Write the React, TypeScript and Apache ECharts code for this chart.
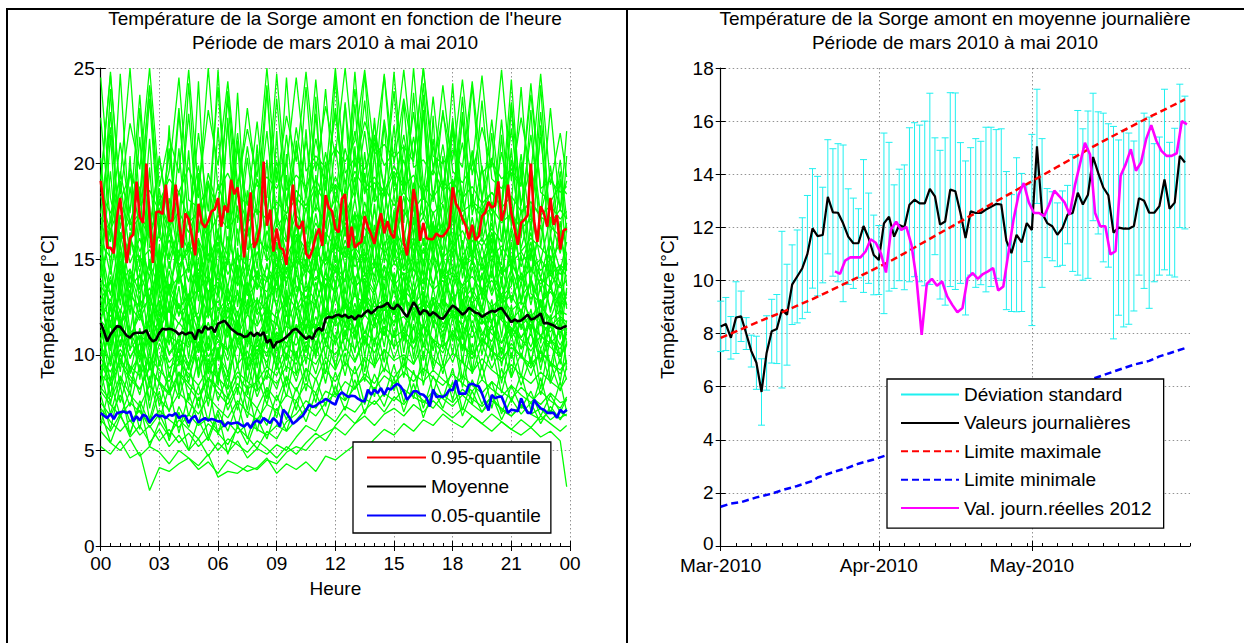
import React, { useEffect, useRef } from 'react';
import * as echarts from 'echarts';

const FONT = '"Liberation Sans", Arial, Helvetica, sans-serif';
const FS = 19;

// ---------- Left chart: temperature by hour ----------
const hourTickLabels = ['00', '03', '06', '09', '12', '15', '18', '21', '00'];

// 0.95-quantile, every 10 minutes (144 values)
const q95 = [
  19.1, 17.8, 15.6, 15.6, 15.3, 17.2, 18.2, 16.4, 14.8, 16.1, 16.3, 19.06,
  17.2, 16.9, 20.0, 17.2, 14.8, 17.45, 17.5, 17.36, 18.9, 17.0, 17.0, 18.9,
  17.0, 15.6, 17.4, 17.1, 16.2, 15.2, 17.9, 16.9, 16.66, 17.0, 17.5, 17.6,
  18.2, 16.7, 17.8, 17.45, 19.16, 18.4, 18.76, 17.27, 15.1, 16.9, 18.5, 15.6,
  15.96, 16.75, 20.1, 16.75, 17.6, 15.4, 16.6, 15.6, 15.5, 14.7, 17.27, 18.9,
  16.8, 16.6, 17.0, 15.3, 15.05, 15.5, 16.2, 16.6, 15.7, 18.35, 17.7, 17.5,
  16.6, 16.4, 18.15, 18.4, 15.6, 16.7, 15.6, 15.8, 15.9, 17.25, 16.7, 16.3,
  15.8, 16.7, 17.4, 16.35, 17.0, 16.35, 16.1, 17.4, 18.3, 15.9, 15.2, 16.7,
  18.67, 17.8, 15.96, 16.9, 16.1, 16.05, 16.05, 16.35, 16.2, 16.2, 16.4, 16.7,
  18.76, 17.9, 17.6, 17.1, 16.75, 16.05, 16.8, 16.0, 16.2, 17.25, 17.45, 18.0,
  17.7, 17.8, 19.07, 17.0, 17.6, 18.9, 17.4, 16.6, 15.75, 16.9, 17.06, 17.3,
  20.0, 17.0, 15.9, 17.76, 17.4, 16.7, 18.2, 16.8, 17.3, 15.5, 16.5, 16.6,
];

// Mean, every 10 minutes (144 values)
const meanHourly = [
  11.67, 11.23, 10.7, 11.06, 11.29, 11.5, 11.46, 11.23, 11.0, 10.9, 11.1, 11.15,
  11.15, 11.15, 11.29, 10.9, 10.7, 10.8, 11.15, 11.36, 11.32, 11.36, 11.32, 11.23,
  11.06, 11.18, 11.06, 11.15, 11.15, 10.8, 11.32, 11.15, 11.5, 11.32, 11.46, 11.18,
  11.63, 11.7, 11.78, 11.58, 11.36, 11.23, 11.1, 11.06, 10.94, 10.97, 11.18, 10.97,
  11.15, 11.0, 11.18, 10.62, 10.8, 10.36, 10.66, 10.7, 10.8, 10.94, 11.1, 11.3,
  11.36, 11.18, 11.0, 10.83, 10.97, 10.83, 11.23, 11.4, 11.25, 11.88, 11.98, 11.95,
  12.05, 12.1, 12.0, 12.1, 11.93, 12.02, 11.84, 12.05, 12.0, 12.19, 12.33, 12.16,
  12.3, 12.5, 12.5, 12.58, 12.72, 12.46, 12.4, 12.63, 12.46, 12.19, 11.98, 12.37,
  12.75, 12.5, 12.1, 12.33, 12.28, 12.05, 12.23, 12.1, 11.93, 11.88, 12.1, 12.37,
  12.58, 12.46, 12.28, 12.1, 12.23, 12.46, 12.33, 12.2, 12.16, 11.98, 12.1, 12.2,
  12.3, 12.25, 12.38, 12.45, 12.2, 11.95, 11.7, 11.85, 11.75, 11.8, 11.93, 12.1,
  11.85, 11.9, 12.02, 12.16, 11.64, 11.67, 11.6, 11.53, 11.41, 11.36, 11.45, 11.5,
];

// 0.05-quantile, every 10 minutes (144 values)
const q05 = [
  6.95, 6.81, 6.69, 6.92, 6.64, 6.95, 6.99, 7.04, 6.95, 7.04, 6.52, 6.78,
  6.57, 6.87, 6.78, 6.46, 6.69, 6.87, 6.78, 6.81, 6.69, 6.87, 6.81, 6.95,
  6.69, 6.81, 6.81, 6.43, 6.69, 6.81, 6.46, 6.6, 6.69, 6.57, 6.64, 6.6,
  6.52, 6.52, 6.25, 6.46, 6.39, 6.43, 6.46, 6.34, 6.25, 6.43, 6.17, 6.46,
  6.57, 6.43, 6.69, 6.57, 6.43, 6.69, 6.52, 6.25, 7.13, 6.95, 6.69, 6.39,
  6.52, 6.69, 6.81, 7.1, 7.39, 7.27, 7.34, 7.48, 7.55, 7.69, 7.6, 7.48,
  7.39, 7.86, 8.04, 7.91, 7.79, 7.86, 7.83, 7.69, 7.6, 7.56, 8.18, 7.91,
  8.18, 8.0, 8.26, 7.91, 8.26, 8.18, 8.35, 8.49, 8.35, 8.09, 7.65, 7.86,
  8.09, 8.09, 7.95, 7.91, 7.74, 7.3, 8.18, 7.79, 7.83, 7.79, 7.91, 8.18,
  8.14, 8.67, 7.97, 7.97, 7.97, 8.44, 8.49, 8.4, 8.35, 7.97, 7.51, 7.09,
  7.9, 7.73, 7.8, 7.82, 7.39, 6.96, 7.13, 7.1, 7.04, 7.73, 7.3, 6.96,
  6.96, 7.65, 7.39, 7.2, 7.13, 6.96, 6.96, 6.96, 6.7, 7.13, 6.96, 7.13,
];

// Hours of the individual daily curves (every 30 min, last sample 23:50)
const greenHours = [
  0, 0.5, 1, 1.5, 2, 2.5, 3, 3.5, 4, 4.5, 5, 5.5, 6, 6.5, 7, 7.5, 8, 8.5, 9, 9.5,
  10, 10.5, 11, 11.5, 12, 12.5, 13, 13.5, 14, 14.5, 15, 15.5, 16, 16.5, 17, 17.5,
  18, 18.5, 19, 19.5, 20, 20.5, 21, 21.5, 22, 22.5, 23, 23.5, 23.83,
];

// Individual daily curves
const greenDays: number[][] = [
  [5.2, 4.8, 5.5, 4.6, 4.9, 2.9, 4.1, 3.9, 4.3, 4.6, 4.0, 4.4, 3.8, 4.5, 4.2, 3.9, 4.1, 4.6, 3.8, 4.3, 4.0, 4.4, 3.9, 4.7, 4.5, 4.9, 5.3, 5.0, 5.6, 6.1, 5.8, 6.4, 6.0, 6.6, 6.3, 6.9, 6.5, 6.2, 6.8, 6.4, 6.0, 6.5, 6.1, 5.8, 6.2, 5.7, 6.0, 5.5, 3.1],
  [6.0, 5.4, 5.0, 5.6, 4.7, 5.2, 4.9, 4.3, 5.0, 4.6, 4.2, 4.8, 3.6, 3.9, 3.8, 4.2, 4.0, 4.5, 4.3, 4.9, 5.2, 5.0, 5.6, 5.9, 6.2, 5.8, 6.4, 6.8, 6.3, 6.9, 7.2, 6.8, 7.4, 7.0, 7.6, 7.1, 6.7, 7.2, 6.8, 6.4, 6.9, 6.5, 6.1, 6.6, 6.2, 6.8, 6.4, 6.0, 6.3],
  [7.2, 6.5, 6.0, 6.6, 5.8, 6.3, 5.5, 6.1, 5.4, 5.9, 5.2, 5.7, 5.0, 5.6, 5.3, 4.9, 5.5, 5.1, 4.6, 5.2, 4.8, 5.4, 5.9, 5.5, 6.3, 6.9, 6.4, 7.1, 7.6, 7.0, 7.8, 7.4, 8.1, 7.6, 7.2, 7.9, 7.5, 8.2, 7.7, 7.3, 7.8, 7.1, 6.8, 7.4, 6.9, 7.2, 6.6, 7.0, 6.8],
  [8.1, 7.4, 6.8, 7.5, 7.0, 6.4, 7.1, 6.6, 6.2, 6.9, 6.3, 6.7, 6.0, 6.5, 5.9, 6.4, 6.1, 5.8, 6.3, 6.0, 6.6, 7.2, 6.8, 7.5, 8.0, 7.6, 8.3, 8.8, 8.2, 8.9, 8.5, 9.1, 8.6, 9.3, 8.8, 8.4, 9.0, 8.5, 8.1, 8.7, 8.2, 7.8, 8.4, 7.9, 7.5, 8.1, 7.6, 7.2, 7.8],
  [9.5, 8.6, 9.8, 8.9, 8.2, 9.4, 8.5, 7.9, 9.0, 8.3, 7.6, 8.8, 8.0, 7.4, 8.5, 7.8, 7.2, 8.3, 7.6, 8.9, 8.1, 9.3, 8.7, 9.9, 9.2, 10.4, 9.6, 10.8, 10.1, 11.2, 10.4, 11.0, 10.3, 11.5, 10.7, 10.1, 11.3, 10.5, 9.8, 10.9, 10.2, 9.6, 10.6, 9.9, 9.3, 10.2, 9.6, 9.0, 9.7],
  [10.8, 12.5, 9.6, 11.2, 10.1, 12.8, 9.4, 11.0, 9.8, 12.1, 9.2, 10.6, 8.9, 11.4, 9.5, 10.2, 8.7, 11.0, 9.3, 10.5, 9.9, 12.0, 10.6, 11.8, 10.9, 12.9, 11.3, 13.4, 11.8, 12.6, 11.5, 13.1, 12.2, 11.4, 12.8, 11.6, 12.3, 11.0, 12.5, 11.2, 10.7, 12.1, 10.9, 11.6, 10.4, 11.9, 10.8, 10.3, 11.1],
  [11.5, 10.2, 13.6, 10.9, 12.1, 10.4, 15.2, 11.0, 10.6, 12.8, 10.1, 11.7, 9.9, 13.5, 10.5, 11.2, 10.0, 12.4, 10.8, 11.5, 12.9, 11.1, 13.8, 12.0, 14.6, 12.4, 13.1, 12.7, 15.9, 13.0, 12.2, 14.1, 12.6, 13.3, 12.1, 14.8, 12.5, 11.9, 13.2, 12.3, 11.6, 13.7, 11.8, 12.4, 11.2, 12.9, 11.5, 12.0, 11.7],
  [12.4, 14.1, 11.6, 13.2, 17.5, 11.9, 12.8, 11.3, 14.6, 11.7, 12.2, 16.3, 11.0, 12.5, 11.4, 13.8, 10.9, 12.0, 11.6, 15.1, 12.3, 13.0, 12.6, 14.4, 13.2, 17.8, 13.6, 14.0, 13.1, 15.3, 13.8, 12.9, 14.5, 13.4, 16.6, 13.0, 14.2, 12.8, 13.5, 12.4, 15.7, 12.7, 13.1, 12.2, 14.0, 12.5, 11.9, 13.3, 12.6],
  [13.6, 12.8, 14.9, 13.1, 12.5, 19.8, 13.4, 12.2, 14.1, 12.7, 13.5, 12.0, 15.6, 12.6, 13.2, 12.1, 14.4, 12.9, 13.7, 20.5, 13.3, 14.5, 13.9, 15.2, 14.3, 16.0, 14.6, 15.4, 14.1, 17.2, 14.8, 15.6, 14.4, 22.8, 15.1, 14.2, 15.7, 14.6, 15.0, 13.9, 16.4, 14.3, 14.8, 13.7, 15.3, 14.0, 13.5, 14.6, 14.1],
  [15.2, 23.9, 14.6, 16.1, 14.9, 15.5, 14.3, 16.8, 14.7, 15.4, 24.3, 14.8, 15.9, 14.2, 15.3, 14.6, 21.0, 14.9, 15.6, 15.1, 16.3, 15.5, 16.9, 15.8, 24.6, 16.2, 17.4, 16.6, 16.0, 17.1, 16.4, 23.2, 16.8, 17.5, 16.1, 16.9, 15.8, 17.3, 16.2, 15.7, 16.6, 15.9, 20.8, 15.4, 16.1, 15.6, 15.0, 15.8, 15.3],
  [16.8, 15.9, 24.7, 16.5, 17.2, 16.1, 18.0, 16.4, 22.6, 16.9, 17.5, 16.0, 24.9, 16.6, 17.3, 16.2, 17.9, 24.1, 16.7, 17.4, 18.2, 17.6, 18.8, 17.9, 19.3, 18.1, 24.8, 18.5, 19.0, 18.3, 19.6, 18.7, 25.0, 18.9, 18.2, 19.1, 18.4, 22.3, 18.0, 17.6, 18.5, 17.8, 24.4, 17.4, 18.0, 17.2, 16.9, 17.6, 17.1],
  [18.5, 17.4, 19.2, 25.0, 17.8, 18.6, 17.5, 19.6, 24.5, 18.1, 17.7, 18.9, 17.6, 23.8, 18.3, 17.9, 19.1, 18.2, 24.7, 18.6, 19.4, 18.8, 20.1, 19.2, 25.0, 19.5, 20.3, 19.7, 21.4, 19.9, 20.6, 24.9, 19.8, 20.2, 19.4, 24.1, 19.6, 19.0, 19.9, 24.6, 19.2, 18.7, 19.5, 18.8, 24.2, 18.5, 18.0, 18.9, 18.4],
  [14.1, 21.5, 13.7, 14.5, 13.2, 14.8, 13.5, 22.0, 13.9, 14.6, 13.3, 14.2, 13.0, 14.9, 21.2, 13.6, 14.3, 13.8, 14.7, 14.0, 15.2, 14.5, 23.5, 14.9, 15.6, 15.1, 16.2, 15.4, 22.4, 15.8, 16.5, 15.7, 16.1, 15.3, 16.8, 15.5, 21.9, 15.2, 16.0, 15.0, 15.6, 14.7, 23.1, 14.9, 15.3, 14.4, 15.0, 14.2, 14.7],
  [11.2, 10.5, 11.8, 10.3, 11.0, 10.6, 11.9, 10.1, 10.8, 10.4, 11.5, 9.9, 10.7, 10.2, 11.3, 9.8, 10.5, 10.1, 11.2, 10.6, 11.4, 11.9, 11.3, 12.4, 11.8, 12.7, 12.1, 13.2, 12.5, 12.9, 12.3, 13.4, 12.8, 12.2, 13.0, 12.4, 11.9, 12.7, 12.1, 11.6, 12.3, 11.8, 11.2, 12.0, 11.5, 11.0, 11.7, 11.2, 11.4],
  [9.0, 8.4, 9.6, 8.7, 8.2, 9.3, 8.6, 8.0, 9.1, 8.5, 7.9, 8.8, 8.3, 7.7, 8.9, 8.2, 8.6, 9.4, 8.9, 10.1, 9.5, 10.7, 10.0, 11.2, 10.6, 11.6, 11.0, 12.1, 11.4, 12.4, 11.7, 12.0, 11.3, 12.6, 11.8, 11.2, 12.2, 11.5, 10.9, 11.8, 11.1, 10.6, 11.4, 10.8, 10.2, 11.0, 10.4, 9.9, 10.5],
  [12.9, 13.8, 12.2, 14.4, 12.6, 13.5, 12.0, 14.9, 12.4, 13.2, 11.8, 14.1, 12.3, 13.0, 11.7, 13.6, 12.1, 12.8, 13.9, 12.5, 14.2, 13.3, 15.0, 13.6, 14.7, 13.9, 15.5, 14.2, 14.9, 14.0, 15.8, 14.4, 15.1, 13.8, 15.3, 14.1, 14.6, 13.6, 14.9, 13.4, 14.3, 13.1, 14.5, 13.0, 13.8, 12.7, 13.5, 12.6, 13.2],
  [8.3, 7.6, 8.9, 7.9, 7.3, 8.4, 7.7, 7.1, 8.0, 7.5, 6.9, 7.8, 7.2, 6.7, 7.6, 7.0, 6.6, 7.4, 7.1, 7.9, 7.6, 8.5, 8.0, 9.2, 8.6, 9.6, 9.0, 9.9, 9.4, 10.3, 9.7, 10.0, 9.5, 10.5, 9.8, 9.3, 10.1, 9.6, 9.1, 9.8, 9.2, 8.8, 9.5, 8.9, 8.5, 9.1, 8.6, 8.2, 8.8],
  [10.4, 9.7, 11.1, 9.9, 10.6, 9.4, 10.9, 9.6, 10.2, 9.3, 10.7, 9.5, 10.0, 9.1, 10.5, 9.4, 9.9, 10.8, 10.2, 11.0, 10.5, 11.6, 10.9, 12.3, 11.5, 12.0, 11.3, 12.8, 11.9, 12.5, 11.7, 13.0, 12.2, 12.6, 11.9, 12.9, 12.1, 11.6, 12.4, 11.8, 11.3, 12.0, 11.4, 10.9, 11.6, 11.0, 10.6, 11.2, 10.8],
  [17.2, 16.5, 17.9, 16.8, 17.4, 16.3, 18.1, 16.7, 17.5, 16.4, 17.8, 16.2, 17.3, 16.6, 18.4, 16.9, 17.6, 17.1, 18.0, 17.4, 18.6, 17.8, 19.2, 18.1, 18.9, 18.3, 19.6, 18.7, 19.3, 18.5, 19.9, 18.8, 19.4, 18.4, 19.7, 18.6, 19.1, 18.2, 18.8, 17.9, 18.5, 17.7, 18.3, 17.5, 18.0, 17.3, 17.8, 17.1, 17.5],
  [12.6, 12.0, 13.1, 20.4, 12.3, 12.9, 11.8, 13.4, 12.1, 12.7, 19.3, 12.2, 12.8, 11.9, 13.2, 12.4, 12.9, 12.3, 21.7, 12.8, 13.6, 13.0, 14.1, 13.5, 14.4, 13.8, 20.9, 14.1, 14.6, 13.9, 14.8, 14.2, 14.5, 13.7, 22.5, 14.0, 14.3, 13.6, 14.1, 13.3, 13.9, 13.0, 13.6, 20.1, 13.2, 12.7, 13.3, 12.5, 13.0],
  [7.5, 6.8, 7.9, 6.5, 7.1, 6.2, 6.9, 5.8, 6.6, 6.1, 5.6, 6.4, 5.9, 5.3, 6.2, 5.7, 5.1, 6.0, 5.6, 6.5, 6.9, 7.6, 7.2, 8.1, 7.8, 8.6, 8.2, 9.0, 8.5, 9.3, 8.8, 9.5, 9.0, 8.6, 9.2, 8.7, 8.3, 8.9, 8.4, 8.0, 8.6, 8.1, 7.7, 8.3, 7.8, 7.4, 8.0, 7.5, 7.6],
  [11.8, 11.1, 12.4, 11.3, 10.8, 11.9, 11.2, 10.6, 11.7, 11.0, 10.5, 11.4, 10.8, 10.3, 11.2, 10.7, 10.2, 11.0, 10.6, 11.5, 11.1, 11.9, 11.4, 12.2, 11.8, 12.6, 12.0, 12.9, 12.3, 12.7, 12.1, 13.0, 12.4, 12.8, 12.2, 12.9, 12.3, 12.0, 12.6, 12.1, 11.8, 12.4, 11.9, 11.5, 12.1, 11.6, 11.2, 11.9, 11.5],
  [15.8, 15.1, 16.4, 15.3, 22.9, 15.6, 16.2, 15.0, 16.6, 15.4, 16.0, 14.9, 16.3, 15.2, 23.7, 15.5, 16.1, 15.4, 16.8, 15.9, 17.3, 16.5, 17.8, 16.9, 18.2, 17.3, 18.6, 23.3, 18.0, 18.8, 17.8, 18.5, 17.6, 18.3, 17.4, 18.0, 24.2, 17.5, 17.9, 17.2, 17.7, 16.9, 17.4, 16.6, 17.1, 22.7, 16.7, 16.2, 16.8],
  [12.0, 12.9, 11.5, 12.6, 11.8, 13.1, 11.3, 12.4, 11.6, 12.8, 11.1, 12.2, 11.4, 12.7, 11.0, 12.1, 11.5, 12.5, 11.9, 13.2, 12.4, 13.6, 12.8, 14.0, 13.2, 14.5, 13.5, 14.2, 13.3, 14.7, 13.6, 14.3, 13.1, 14.4, 13.4, 13.9, 12.9, 13.6, 12.7, 13.3, 12.5, 13.0, 12.3, 12.8, 12.0, 12.6, 11.8, 12.3, 12.1],
  [9.8, 9.1, 10.3, 9.4, 8.9, 9.9, 9.2, 8.6, 9.6, 9.0, 8.4, 9.3, 8.8, 8.2, 9.1, 8.6, 8.1, 8.9, 8.5, 9.4, 9.0, 9.9, 9.5, 10.5, 10.0, 10.9, 10.3, 11.2, 10.7, 11.5, 10.9, 11.3, 10.6, 11.6, 10.8, 10.4, 11.1, 10.5, 10.0, 10.8, 10.2, 9.8, 10.4, 9.9, 9.5, 10.1, 9.6, 9.2, 9.7],
  [18.9, 24.8, 18.1, 19.4, 18.4, 24.0, 18.0, 19.2, 18.5, 19.8, 18.2, 25.0, 18.6, 19.5, 18.3, 22.9, 18.8, 19.3, 18.7, 19.9, 24.5, 19.6, 20.4, 19.8, 20.8, 20.1, 21.2, 24.9, 20.5, 21.0, 20.3, 20.9, 20.1, 25.0, 20.4, 20.0, 20.7, 19.8, 24.3, 19.5, 20.1, 19.2, 19.7, 18.9, 23.6, 18.7, 19.1, 18.5, 18.8],
  [6.6, 6.0, 6.9, 5.7, 6.3, 5.4, 6.1, 5.2, 5.8, 5.0, 5.6, 4.7, 5.4, 4.9, 5.5, 4.6, 5.1, 4.8, 5.3, 5.0, 5.7, 6.3, 6.0, 6.9, 6.5, 7.3, 7.0, 7.7, 7.4, 8.0, 7.6, 8.2, 7.8, 7.5, 8.1, 7.7, 7.3, 7.9, 7.4, 7.0, 7.6, 7.2, 6.8, 7.3, 6.9, 6.6, 7.1, 6.7, 6.9],
  [13.9, 13.2, 14.6, 13.5, 14.2, 13.0, 14.8, 13.4, 14.1, 12.9, 14.5, 13.3, 13.8, 12.8, 14.3, 13.1, 13.7, 13.3, 14.4, 13.8, 15.0, 14.3, 15.4, 14.7, 15.9, 15.1, 15.6, 14.9, 16.2, 15.3, 16.0, 15.2, 15.8, 14.9, 16.3, 15.1, 15.6, 14.7, 15.3, 14.5, 15.0, 14.2, 14.8, 13.9, 14.5, 13.7, 14.2, 13.5, 13.9],
  [16.2, 22.7, 15.8, 19.5, 16.6, 23.4, 16.1, 20.8, 15.9, 24.2, 16.4, 19.1, 16.0, 22.1, 15.7, 20.3, 16.3, 23.8, 16.8, 21.5, 17.1, 24.0, 17.5, 20.6, 17.9, 23.1, 18.2, 21.7, 18.0, 24.7, 18.4, 20.2, 17.8, 22.8, 18.1, 21.0, 17.6, 23.5, 17.3, 19.8, 17.0, 22.3, 16.7, 20.5, 16.5, 24.1, 16.2, 19.6, 16.4],
  [24.5, 18.2, 15.9, 17.1, 15.4, 16.6, 14.8, 16.0, 14.5, 15.7, 14.2, 15.3, 13.9, 15.1, 13.6, 14.8, 13.4, 14.6, 13.8, 15.2, 14.5, 15.9, 15.0, 16.4, 15.6, 16.9, 16.0, 17.5, 16.3, 17.0, 16.1, 17.6, 16.4, 17.2, 16.0, 16.8, 15.7, 16.5, 15.4, 16.1, 15.1, 15.7, 14.8, 15.4, 14.5, 15.0, 14.2, 14.7, 14.4],
  [8.4, 12.6, 9.1, 13.2, 8.7, 11.9, 9.5, 12.8, 8.2, 12.1, 9.0, 13.4, 8.6, 11.7, 9.3, 12.9, 8.1, 12.4, 9.6, 13.1, 8.9, 12.2, 9.8, 13.6, 9.2, 12.7, 10.1, 13.9, 9.5, 13.0, 10.3, 14.2, 9.8, 13.3, 9.4, 12.8, 10.0, 13.5, 9.1, 12.6, 9.7, 13.2, 8.8, 12.3, 9.4, 12.9, 8.6, 12.0, 9.2],
  [16.2, 11.4, 15.8, 12.1, 16.9, 11.2, 15.5, 12.4, 17.1, 11.6, 16.0, 11.9, 16.6, 11.1, 15.3, 12.2, 16.8, 11.5, 15.9, 12.6, 17.2, 12.0, 16.4, 13.1, 17.6, 12.5, 16.9, 13.4, 17.9, 12.8, 17.3, 13.0, 18.1, 12.6, 17.0, 13.2, 17.7, 12.3, 16.8, 12.9, 17.4, 12.1, 16.5, 12.7, 17.0, 11.8, 16.3, 12.4, 16.7],
  [10.6, 7.4, 10.1, 7.9, 10.8, 7.2, 9.7, 8.1, 10.4, 7.6, 9.9, 7.3, 10.2, 7.8, 9.5, 7.1, 10.0, 7.7, 10.5, 8.3, 11.2, 8.6, 11.6, 9.0, 12.1, 9.4, 12.4, 9.1, 11.9, 9.6, 12.6, 9.3, 12.2, 8.9, 11.8, 9.5, 12.0, 8.7, 11.5, 9.2, 11.7, 8.5, 11.1, 8.8, 11.4, 8.2, 10.9, 8.6, 10.7],
  [14.2, 19.6, 13.5, 18.8, 14.6, 21.3, 13.8, 18.2, 14.9, 20.7, 13.4, 19.1, 14.1, 22.4, 13.7, 18.6, 14.5, 20.2, 14.0, 19.4, 15.1, 21.8, 14.8, 20.1, 15.6, 23.2, 15.2, 20.6, 15.9, 22.1, 15.4, 21.0, 16.1, 23.6, 15.5, 20.4, 15.8, 22.7, 15.0, 19.9, 15.3, 21.5, 14.6, 19.7, 14.9, 22.0, 14.3, 19.2, 14.7],
  [13.8, 9.6, 14.5, 10.2, 13.1, 9.3, 14.9, 10.5, 13.6, 9.8, 14.2, 9.1, 13.4, 10.0, 14.7, 9.5, 13.0, 10.3, 14.4, 10.8, 15.1, 11.2, 15.6, 11.7, 16.0, 11.4, 15.3, 12.0, 16.4, 11.6, 15.8, 12.2, 16.1, 11.5, 15.5, 11.9, 15.9, 11.1, 15.2, 11.6, 14.8, 10.9, 14.6, 11.3, 14.1, 10.6, 13.9, 10.8, 13.5],
  [9.2, 6.9, 8.8, 7.3, 9.5, 6.6, 8.6, 7.0, 9.1, 6.8, 8.4, 6.5, 9.0, 7.1, 8.3, 6.7, 8.9, 7.4, 9.6, 7.8, 10.2, 8.1, 10.7, 8.5, 11.0, 8.9, 11.4, 8.6, 10.9, 9.1, 11.3, 8.8, 11.6, 8.4, 10.8, 9.0, 11.2, 8.3, 10.6, 8.7, 10.4, 8.0, 10.1, 8.4, 9.9, 7.9, 9.6, 8.1, 9.4],
  [17.4, 21.9, 16.6, 19.8, 17.9, 24.1, 16.8, 20.5, 17.2, 22.6, 16.4, 19.5, 17.6, 23.4, 16.9, 20.9, 17.3, 21.7, 16.7, 24.5, 17.8, 21.2, 18.3, 23.9, 17.9, 20.8, 18.6, 24.7, 18.1, 22.3, 18.8, 21.5, 18.4, 24.2, 18.0, 22.8, 18.5, 21.1, 17.7, 23.3, 17.5, 20.6, 17.9, 24.0, 17.2, 21.4, 16.8, 20.2, 17.1],
  [12.9, 10.3, 13.6, 10.8, 12.4, 10.1, 13.2, 11.0, 12.7, 10.5, 13.8, 10.2, 12.5, 10.9, 13.4, 10.4, 12.8, 11.1, 13.9, 11.5, 14.3, 11.9, 14.8, 12.2, 15.2, 12.6, 15.5, 12.3, 15.0, 12.8, 15.7, 12.5, 15.3, 12.1, 14.9, 12.7, 15.4, 12.0, 14.6, 12.4, 14.4, 11.8, 14.1, 12.1, 13.9, 11.5, 13.6, 11.9, 13.3],
  [19.2, 24.6, 18.4, 22.1, 19.7, 25.0, 18.8, 21.4, 19.5, 24.9, 18.6, 22.8, 19.9, 24.3, 18.9, 21.8, 19.3, 25.0, 19.0, 22.5, 20.1, 24.8, 19.6, 23.0, 20.4, 25.0, 19.8, 22.2, 20.6, 24.6, 20.0, 23.4, 20.3, 25.0, 19.7, 22.6, 20.2, 24.4, 19.4, 21.9, 19.8, 24.9, 19.1, 22.4, 19.5, 24.7, 18.9, 21.6, 19.3],
  [11.7, 8.5, 12.2, 9.0, 11.4, 8.3, 12.6, 8.8, 11.1, 9.2, 12.0, 8.4, 11.5, 8.9, 12.3, 8.6, 11.2, 9.3, 12.5, 9.7, 13.0, 10.1, 13.4, 10.5, 13.8, 10.9, 14.1, 10.6, 13.6, 11.0, 14.3, 10.8, 13.9, 10.4, 13.5, 10.9, 13.7, 10.2, 13.2, 10.6, 12.9, 10.0, 12.6, 10.3, 12.4, 9.6, 12.1, 9.9, 11.8],
  [15.1, 12.4, 15.8, 12.9, 18.6, 12.2, 15.4, 13.1, 16.2, 12.6, 15.6, 12.0, 17.9, 12.8, 15.2, 13.3, 16.0, 12.5, 15.9, 13.6, 16.8, 13.9, 19.4, 14.2, 17.1, 14.6, 17.5, 14.3, 20.6, 14.8, 17.3, 14.5, 17.8, 14.1, 16.9, 14.7, 19.1, 14.0, 16.6, 14.4, 16.4, 13.7, 18.3, 13.9, 15.9, 13.3, 15.7, 13.6, 15.3],
  [8.1, 9.9, 7.5, 9.4, 7.9, 10.2, 7.3, 9.1, 7.7, 9.6, 7.2, 9.8, 7.6, 9.0, 7.1, 9.5, 7.8, 9.2, 8.2, 10.0, 8.6, 10.5, 9.0, 10.9, 9.4, 11.3, 9.7, 11.0, 9.3, 11.5, 9.8, 11.2, 9.5, 11.6, 9.2, 10.8, 9.6, 11.1, 9.0, 10.6, 9.3, 10.4, 8.8, 10.1, 8.9, 10.3, 8.5, 9.8, 8.7],
  [16.5, 14.2, 17.3, 14.8, 16.1, 14.0, 17.6, 14.5, 16.8, 14.3, 17.1, 13.9, 16.4, 14.7, 17.8, 14.1, 16.6, 14.9, 17.4, 15.3, 18.1, 15.6, 18.5, 15.9, 18.9, 16.2, 19.3, 15.8, 18.7, 16.4, 19.5, 16.0, 19.0, 15.7, 18.6, 16.1, 19.2, 15.5, 18.4, 15.9, 18.0, 15.2, 17.7, 15.6, 17.5, 14.9, 17.2, 15.3, 16.9],
  [9.9, 12.7, 10.4, 13.3, 9.6, 12.2, 10.8, 13.5, 9.4, 12.9, 10.1, 13.1, 9.7, 12.4, 10.6, 13.6, 9.3, 12.8, 10.5, 13.4, 10.9, 13.9, 11.3, 14.4, 11.6, 14.8, 11.9, 15.1, 11.5, 14.6, 12.1, 15.3, 11.8, 14.9, 11.4, 14.5, 12.0, 15.0, 11.2, 14.3, 11.6, 14.1, 10.9, 13.8, 11.3, 13.6, 10.7, 13.2, 10.5],
  [18.3, 16.4, 19.6, 16.9, 18.8, 16.2, 20.4, 16.7, 18.5, 17.1, 19.9, 16.5, 18.9, 17.3, 21.6, 16.8, 19.2, 17.5, 20.1, 17.8, 20.8, 18.2, 21.3, 18.6, 22.9, 18.9, 21.7, 18.4, 21.1, 18.8, 23.8, 18.5, 21.4, 18.1, 20.9, 18.7, 22.2, 18.0, 20.6, 18.3, 20.3, 17.6, 21.8, 17.9, 19.8, 17.4, 19.5, 17.7, 19.1],
  [10.9, 7.8, 11.5, 8.3, 10.2, 7.6, 11.8, 8.0, 10.6, 8.5, 11.2, 7.7, 10.4, 8.2, 11.6, 7.9, 10.8, 8.7, 11.9, 9.1, 12.4, 9.5, 12.9, 9.8, 13.3, 10.2, 13.6, 9.9, 13.1, 10.4, 13.8, 10.1, 13.4, 9.7, 13.0, 10.3, 13.5, 9.6, 12.8, 10.0, 12.6, 9.4, 12.3, 9.8, 12.1, 9.2, 11.8, 9.5, 11.4],
  [11.6, 14.7, 11.1, 14.2, 11.9, 15.0, 11.3, 14.4, 12.0, 14.9, 11.4, 14.1, 11.8, 15.3, 11.2, 14.6, 12.2, 14.8, 12.5, 15.4, 12.9, 15.8, 13.2, 16.3, 13.6, 16.7, 13.3, 16.2, 13.8, 16.9, 13.5, 16.5, 13.9, 16.1, 13.4, 16.6, 13.7, 16.0, 13.1, 15.7, 13.3, 15.5, 12.8, 15.2, 12.6, 15.0, 12.2, 14.7, 12.4],
  [7.9, 6.1, 8.4, 5.8, 7.6, 6.4, 8.1, 5.5, 7.3, 6.2, 7.8, 5.7, 7.1, 6.0, 7.5, 5.6, 7.2, 6.3, 7.9, 6.6, 8.3, 7.0, 8.8, 7.3, 9.1, 7.6, 9.4, 7.4, 9.0, 7.8, 9.5, 7.5, 9.2, 7.2, 8.9, 7.7, 9.3, 7.1, 8.7, 7.4, 8.6, 6.9, 8.4, 7.2, 8.1, 6.8, 7.9, 7.0, 7.7],
  [15.7, 13.1, 16.4, 13.6, 15.2, 12.9, 16.8, 13.4, 15.5, 13.8, 16.1, 13.0, 15.9, 13.5, 16.6, 13.2, 15.4, 13.9, 16.3, 14.2, 17.0, 14.6, 17.4, 14.9, 17.9, 15.2, 18.2, 14.8, 17.6, 15.3, 18.4, 15.0, 17.8, 14.7, 17.5, 15.1, 18.0, 14.5, 17.2, 14.8, 16.9, 14.3, 16.7, 14.6, 16.4, 14.0, 16.2, 14.4, 15.9],
  [10.2, 8.7, 10.8, 9.1, 10.0, 8.5, 10.6, 9.3, 9.8, 8.8, 10.5, 9.0, 10.1, 8.6, 10.9, 9.2, 10.3, 9.6, 11.1, 9.9, 11.6, 10.3, 12.0, 10.6, 12.4, 10.9, 12.7, 10.5, 12.2, 11.0, 12.8, 10.7, 12.5, 10.4, 12.1, 10.8, 12.3, 10.2, 11.8, 10.5, 11.6, 10.0, 11.3, 10.3, 11.1, 9.7, 10.8, 10.0, 10.6],
  [13.1, 17.2, 12.6, 16.4, 13.4, 17.8, 12.3, 16.9, 13.7, 17.5, 12.8, 16.2, 13.3, 17.9, 12.5, 16.7, 13.9, 17.3, 13.0, 18.2, 14.1, 18.6, 14.4, 19.1, 14.8, 18.4, 15.2, 19.5, 14.6, 18.9, 15.0, 19.3, 14.5, 18.7, 14.9, 19.0, 14.2, 18.5, 14.7, 18.1, 14.0, 17.8, 14.3, 17.6, 13.8, 17.4, 13.5, 17.0, 13.6],
  [6.3, 8.6, 6.8, 8.1, 6.1, 8.9, 6.6, 8.3, 5.9, 8.0, 6.4, 8.5, 5.8, 7.9, 6.2, 8.4, 6.0, 8.2, 6.7, 8.8, 7.1, 9.3, 7.5, 9.7, 7.9, 10.1, 8.2, 9.8, 7.8, 10.3, 8.1, 9.9, 7.7, 10.2, 8.0, 9.6, 7.6, 9.9, 7.4, 9.5, 7.2, 9.3, 7.5, 9.0, 7.1, 8.8, 6.9, 8.6, 7.0],
  [20.3, 14.6, 19.1, 15.2, 21.4, 14.4, 18.7, 15.0, 20.8, 14.8, 19.5, 14.2, 21.9, 15.1, 18.9, 14.7, 20.5, 15.4, 19.8, 15.9, 21.2, 16.3, 22.6, 16.6, 20.9, 17.0, 23.1, 16.8, 21.5, 17.2, 22.0, 16.9, 23.7, 17.1, 21.3, 16.5, 22.4, 16.8, 20.7, 16.2, 21.6, 15.9, 20.2, 16.1, 22.8, 15.6, 19.9, 15.8, 20.4],
  [14.9, 10.6, 15.4, 11.2, 14.3, 10.4, 15.8, 11.0, 14.6, 10.8, 15.1, 10.2, 14.7, 11.3, 15.6, 10.7, 14.4, 11.5, 15.3, 12.0, 16.2, 12.4, 16.6, 12.9, 17.0, 13.2, 17.4, 12.8, 16.8, 13.4, 17.6, 13.0, 17.2, 12.6, 16.9, 13.1, 17.3, 12.5, 16.5, 12.9, 16.1, 12.2, 15.9, 12.6, 15.6, 11.9, 15.2, 12.1, 14.8],
  [8.9, 11.8, 8.3, 11.2, 9.1, 12.1, 8.6, 11.5, 8.0, 11.9, 8.8, 11.0, 8.4, 11.6, 7.9, 11.3, 8.7, 11.7, 9.2, 12.3, 9.7, 12.8, 10.1, 13.1, 10.5, 13.5, 10.8, 13.2, 10.4, 13.7, 10.9, 13.4, 10.6, 13.0, 10.2, 13.3, 10.7, 12.9, 10.0, 12.6, 10.3, 12.4, 9.8, 12.2, 9.6, 11.9, 9.4, 11.7, 9.5],
  [22.4, 16.9, 21.1, 17.4, 23.6, 16.6, 20.3, 17.2, 22.9, 16.8, 21.6, 17.5, 24.0, 16.7, 20.8, 17.8, 22.2, 17.1, 23.4, 17.9, 21.9, 18.5, 24.4, 18.8, 22.6, 18.3, 23.9, 19.0, 22.1, 18.6, 24.8, 18.9, 22.7, 18.4, 23.5, 18.7, 21.8, 18.2, 24.1, 18.0, 22.3, 17.6, 23.2, 17.8, 21.5, 17.3, 22.9, 17.5, 21.7],
  [12.2, 13.9, 11.5, 13.4, 12.0, 14.2, 11.3, 13.7, 12.4, 13.1, 11.7, 14.0, 11.2, 13.5, 12.1, 13.8, 11.6, 14.1, 12.5, 14.6, 12.9, 15.0, 13.3, 15.4, 13.6, 15.7, 13.9, 15.3, 13.5, 15.9, 13.8, 15.5, 13.2, 15.6, 13.7, 15.1, 13.4, 15.2, 13.0, 14.8, 13.1, 14.6, 12.7, 14.3, 12.9, 14.0, 12.4, 13.8, 12.6],
  [7.1, 5.4, 6.8, 5.9, 7.4, 5.2, 6.5, 5.7, 7.0, 5.0, 6.6, 5.5, 6.9, 4.8, 6.3, 5.3, 6.7, 5.6, 7.2, 6.0, 7.6, 6.5, 8.0, 6.8, 8.4, 7.1, 8.7, 6.9, 8.3, 7.3, 8.8, 7.0, 8.5, 6.7, 8.2, 7.2, 8.6, 6.8, 8.1, 7.0, 7.9, 6.6, 7.7, 6.9, 7.5, 6.4, 7.3, 6.6, 7.2],
  [14.0, 16.6, 13.4, 16.1, 14.3, 17.0, 13.2, 16.4, 14.5, 15.9, 13.6, 16.8, 13.1, 16.2, 14.2, 16.9, 13.5, 16.5, 14.6, 17.3, 15.0, 17.7, 15.4, 18.1, 15.8, 18.4, 15.5, 18.0, 16.0, 18.6, 15.7, 18.3, 15.3, 18.5, 15.6, 17.9, 15.2, 18.2, 15.0, 17.6, 14.8, 17.4, 14.6, 17.1, 14.3, 16.8, 14.1, 16.5, 14.4],
  [11.3, 9.4, 11.9, 9.8, 11.0, 9.2, 11.6, 10.0, 10.7, 9.5, 11.4, 9.1, 11.1, 9.7, 11.8, 9.3, 10.9, 9.9, 11.7, 10.4, 12.2, 10.8, 12.6, 11.2, 13.0, 11.5, 13.3, 11.1, 12.8, 11.6, 13.4, 11.3, 13.1, 10.9, 12.7, 11.4, 13.0, 10.8, 12.5, 11.0, 12.3, 10.6, 12.0, 10.9, 11.8, 10.3, 11.5, 10.5, 11.2],
];

// ---------- Right chart: daily means (day 0 = 1 March 2010) ----------
const monthTickDays = [0, 31, 61];
const monthTickLabels = ['Mar-2010', 'Apr-2010', 'May-2010'];

const dailyMean = [
  8.27, 8.36, 7.84, 8.6, 8.65, 8.0, 7.34, 6.9, 5.8, 7.27,
  8.09, 8.17, 8.9, 8.71, 9.84, 10.15, 10.46, 11.0, 11.96, 11.67,
  11.71, 13.15, 12.56, 12.55, 12.15, 11.65, 11.4, 11.4, 12.05, 11.59,
  10.96, 10.77, 12.15, 12.4, 11.65, 12.09, 12.0, 12.85, 13.04, 12.9,
  12.9, 13.45, 13.17, 12.1, 12.22, 13.42, 13.36, 12.54, 11.6, 12.6,
  12.54, 12.54, 12.67, 12.77, 12.88, 12.86, 11.5, 11.03, 11.72, 11.43,
  12.16, 11.9, 15.05, 12.54, 12.16, 12.04, 11.72, 11.97, 12.48, 12.54,
  13.3, 12.86, 13.23, 14.65, 14.05, 13.5, 13.2, 11.8, 11.99, 11.95,
  11.95, 12.05, 13.1, 13.0, 12.55, 12.55, 12.8, 13.8, 12.7, 12.93,
  14.69, 14.44,
];

const dailyStd = [
  0.95, 1.0, 0.8, 1.35, 0.95, 0.6, 0.6, 1.0, 1.25, 1.4,
  1.2, 1.3, 2.95, 1.9, 1.5, 1.75, 1.9, 2.2, 2.25, 2.25,
  1.8, 2.15, 2.4, 2.6, 2.95, 1.8, 1.7, 1.3, 2.5, 1.7,
  1.5, 1.3, 3.4, 2.8, 1.95, 2.1, 2.35, 2.9, 2.9, 2.95,
  3.1, 3.6, 2.2, 2.8, 3.15, 3.65, 3.7, 2.65, 2.9, 2.4,
  2.8, 2.7, 3.1, 3.0, 2.8, 2.85, 2.6, 2.2, 2.9, 2.6,
  1.45, 3.6, 2.15, 2.8, 1.3, 1.3, 1.2, 1.4, 1.1, 2.2,
  3.1, 2.85, 3.15, 2.4, 2.3, 2.8, 2.7, 4.0, 3.3, 3.7,
  3.6, 3.2, 2.9, 3.3, 3.6, 2.6, 2.6, 3.4, 2.5, 2.8,
  2.7, 2.5,
];

const maxLimit: [number, number][] = [
  [0, 7.84], [3, 8.08], [6, 8.33], [9, 8.57], [12, 8.8], [15, 9.05], [18, 9.3],
  [21, 9.57], [24, 9.85], [27, 10.13], [30, 10.42], [33, 10.7], [36, 11.02],
  [39, 11.35], [42, 11.68], [45, 12.0], [48, 12.33], [51, 12.65], [54, 12.98],
  [57, 13.3], [60, 13.63], [63, 13.95], [66, 14.28], [69, 14.6], [72, 14.93],
  [75, 15.25], [78, 15.55], [81, 15.85], [84, 16.15], [87, 16.43], [91, 16.82],
];

const minLimit: [number, number][] = [
  [0, 1.48], [2, 1.6], [4, 1.65], [7, 1.83], [10, 1.97], [12, 2.1], [15, 2.26],
  [18, 2.45], [19, 2.58], [22, 2.78], [25, 2.95], [27, 3.1], [30, 3.26], [33, 3.45],
  [37, 3.7], [41, 3.95], [45, 4.25], [49, 4.5], [53, 4.8], [57, 5.05], [61, 5.3],
  [65, 5.6], [69, 5.95], [73, 6.3], [76, 6.5], [79, 6.7], [81, 6.83], [84, 6.97],
  [86, 7.14], [88, 7.26], [91, 7.45],
];

const real2012Start = 22.4;
const real2012 = [
  10.34, 10.25, 10.75, 10.87, 10.87, 10.87, 11.09, 11.55, 11.42, 11.02,
  10.3, 11.93, 12.21, 11.9, 12.02, 11.34, 10.03, 7.95, 9.87, 10.06,
  9.8, 9.96, 9.4, 9.08, 8.8, 8.96, 10.09, 10.28, 10.06, 10.24,
  10.34, 10.47, 9.62, 9.77, 11.03, 12.29, 13.23, 13.67, 12.94, 12.54,
  12.54, 12.42, 12.86, 13.38, 13.17, 12.94, 12.48, 13.55, 14.36, 15.18,
  14.74, 12.54, 12.04, 12.04, 10.98, 11.1, 13.94, 14.38, 14.94, 14.13,
  14.44, 15.32, 15.85, 15.26, 14.88, 14.69, 14.69, 14.79, 16.0, 15.88,
];

// ---------- styles ----------
const CYAN = '#1FF0F0';
const NOFILL = 'rgba(0,0,0,0)';
const textBase = { color: '#000', fontSize: FS, fontFamily: FONT };
const axisLine = { show: true, onZero: false, lineStyle: { color: '#000', width: 1.2 } };
const tickIn = { show: true, inside: true, length: 5, lineStyle: { color: '#000', width: 1 } };
const gridLine = { show: true, lineStyle: { color: '#777', width: 0.8, type: [1.5, 2.5] as any } };

function buildOption(): any {
  const gridLeft = { left: 100.7, right: 1244 - 570, top: 68, bottom: 643 - 546 };
  const gridRight = { left: 720.7, right: 1244 - 1190, top: 68, bottom: 643 - 546 };

  const greenSeries = greenDays.map((vals, k) => ({
    type: 'line',
    name: 'jour ' + (k + 1),
    xAxisIndex: 0,
    yAxisIndex: 0,
    symbol: 'none',
    silent: true,
    z: 2,
    lineStyle: { color: '#00FF00', width: 1.3 },
    itemStyle: { color: '#00FF00' },
    data: vals.filter((_, i) => i < greenHours.length).map((v, i) => [greenHours[i], v]),
  }));

  const quantLine = (name: string, vals: number[], color: string) => ({
    type: 'line',
    name,
    xAxisIndex: 0,
    yAxisIndex: 0,
    symbol: 'none',
    silent: true,
    z: 4,
    lineStyle: { color, width: 2.6 },
    itemStyle: { color: NOFILL },
    data: vals.map((v, i) => [i / 6, v]),
  });

  const sideAxisCommon = {
    axisLine: { show: false },
    axisTick: tickIn,
    axisLabel: { show: false },
    splitLine: { show: false },
  };

  const legendCommon = {
    orient: 'vertical',
    itemHeight: 14,
    backgroundColor: '#fff',
    borderColor: '#000',
    borderWidth: 1.3,
    borderRadius: 0,
    selectedMode: false,
    z: 20,
    itemStyle: { color: NOFILL, borderWidth: 0, opacity: 0 },
    textStyle: { ...textBase, lineHeight: 19 },
  };

  const titleStyle = (text: string) => ({
    text, fill: '#000', fontSize: FS, fontFamily: FONT,
    align: 'center', verticalAlign: 'middle', textAlign: 'center', textVerticalAlign: 'middle',
  });

  return {
    animation: false,
    backgroundColor: '#fff',
    textStyle: { fontFamily: FONT },
    grid: [gridLeft, gridRight],
    graphic: [
      { type: 'line', shape: { x1: 6, y1: 9, x2: 1244, y2: 9 }, style: { stroke: '#000', lineWidth: 2 }, silent: true },
      { type: 'line', shape: { x1: 7, y1: 8, x2: 7, y2: 643 }, style: { stroke: '#000', lineWidth: 2 }, silent: true },
      { type: 'line', shape: { x1: 627, y1: 8, x2: 627, y2: 643 }, style: { stroke: '#000', lineWidth: 2 }, silent: true },
      { type: 'text', x: 335, y: 18.5, silent: true, style: titleStyle("Température de la Sorge amont en fonction de l'heure") },
      { type: 'text', x: 335, y: 42.5, silent: true, style: titleStyle('Période de mars 2010 à mai 2010') },
      { type: 'text', x: 955, y: 18.5, silent: true, style: titleStyle('Température de la Sorge amont en moyenne journalière') },
      { type: 'text', x: 955, y: 42.5, silent: true, style: titleStyle('Période de mars 2010 à mai 2010') },
    ],
    legend: [
      {
        ...legendCommon,
        data: ['0.95-quantile', 'Moyenne', '0.05-quantile'],
        left: 353,
        top: 442,
        itemWidth: 59,
        itemGap: 10,
        padding: [6, 10, 8, 13],
      },
      {
        ...legendCommon,
        data: ['Déviation standard', 'Valeurs journalières', 'Limite maximale', 'Limite minimale', 'Val. journ.réelles 2012'],
        left: 887,
        top: 379,
        itemWidth: 58,
        itemGap: 9.4,
        padding: [6, 12, 10.5, 13],
      },
    ],
    xAxis: [
      {
        type: 'value', gridIndex: 0, position: 'bottom', min: 0, max: 24, interval: 3,
        axisLine, axisTick: tickIn,
        minorTick: { show: true, splitNumber: 6, length: 3, lineStyle: { color: '#000', width: 1 } },
        axisLabel: { ...textBase, lineHeight: 15, margin: 10, formatter: (v: number) => hourTickLabels[Math.round(v / 3)] },
        splitLine: gridLine,
        name: 'Heure', nameLocation: 'middle', nameGap: 33, nameTextStyle: textBase,
      },
      { type: 'value', gridIndex: 0, position: 'top', min: 0, max: 24, interval: 3, ...sideAxisCommon },
      {
        type: 'value', gridIndex: 1, position: 'bottom', min: 0, max: 92,
        axisLine,
        axisTick: { ...tickIn, customValues: monthTickDays },
        axisLabel: {
          ...textBase, lineHeight: 15, margin: 12, customValues: monthTickDays,
          formatter: (v: number) => monthTickLabels[monthTickDays.indexOf(Math.round(v))] ?? '',
        },
        splitLine: gridLine,
      },
      {
        type: 'value', gridIndex: 1, position: 'top', min: 0, max: 92,
        axisLine: { show: false },
        axisTick: { ...tickIn, customValues: monthTickDays },
        axisLabel: { show: false },
        splitLine: { show: false },
      },
      {
        type: 'value', gridIndex: 1, position: 'bottom', min: 0, max: 92, interval: 3,
        axisLine: { show: false },
        axisTick: { show: true, inside: true, length: 3, lineStyle: { color: '#000', width: 1 } },
        axisLabel: { show: false },
        splitLine: { show: false },
      },
    ],
    yAxis: [
      {
        type: 'value', gridIndex: 0, position: 'left', min: 0, max: 25, interval: 5,
        axisLine, axisTick: tickIn,
        axisLabel: { ...textBase, lineHeight: 15, margin: 6 },
        splitLine: gridLine,
        name: 'Température [°C]', nameLocation: 'middle', nameGap: 44, nameTextStyle: textBase,
      },
      { type: 'value', gridIndex: 0, position: 'right', min: 0, max: 25, interval: 5, ...sideAxisCommon },
      {
        type: 'value', gridIndex: 1, position: 'left', min: 0, max: 18, interval: 2,
        axisLine, axisTick: tickIn,
        axisLabel: {
          ...textBase, lineHeight: 15, margin: 7,
          formatter: (v: number) => (v === 0 ? '{lo|0}' : String(v)),
          rich: { lo: { ...textBase, lineHeight: 15, padding: [0, 0, 5, 0] } },
        },
        splitLine: gridLine,
        name: 'Température [°C]', nameLocation: 'middle', nameGap: 44, nameTextStyle: textBase,
      },
      { type: 'value', gridIndex: 1, position: 'right', min: 0, max: 18, interval: 2, ...sideAxisCommon },
    ],
    series: [
      ...greenSeries,
      quantLine('0.95-quantile', q95, '#FF0000'),
      quantLine('Moyenne', meanHourly, '#000000'),
      quantLine('0.05-quantile', q05, '#0000FF'),
      {
        type: 'line', name: 'Déviation standard', xAxisIndex: 2, yAxisIndex: 2,
        symbol: 'none', silent: true, data: [],
        lineStyle: { color: CYAN, width: 1.5 },
        itemStyle: { color: NOFILL },
      },
      {
        type: 'custom', name: 'errbar', xAxisIndex: 2, yAxisIndex: 2, silent: true, z: 2,
        encode: { x: 0, y: [1, 2] },
        data: dailyMean.map((m, d) => [d, m - dailyStd[d], m + dailyStd[d]]),
        renderItem: (_params: any, api: any) => {
          const x = api.value(0);
          const lo = api.coord([x, api.value(1)]);
          const hi = api.coord([x, api.value(2)]);
          const hw = 3.5;
          const style = { stroke: CYAN, lineWidth: 1 };
          return {
            type: 'group',
            children: [
              { type: 'line', shape: { x1: lo[0], y1: lo[1], x2: hi[0], y2: hi[1] }, style },
              { type: 'line', shape: { x1: lo[0] - hw, y1: lo[1], x2: lo[0] + hw, y2: lo[1] }, style },
              { type: 'line', shape: { x1: hi[0] - hw, y1: hi[1], x2: hi[0] + hw, y2: hi[1] }, style },
            ],
          };
        },
      },
      {
        type: 'line', name: 'Valeurs journalières', xAxisIndex: 2, yAxisIndex: 2,
        symbol: 'none', silent: true, z: 3,
        lineStyle: { color: '#000', width: 2.2 },
        itemStyle: { color: NOFILL },
        data: dailyMean.map((v, d) => [d, v]),
      },
      {
        type: 'line', name: 'Limite maximale', xAxisIndex: 2, yAxisIndex: 2,
        symbol: 'none', silent: true, z: 4,
        lineStyle: { color: '#FF0000', width: 2.5, type: [7, 4] },
        itemStyle: { color: NOFILL },
        data: maxLimit,
      },
      {
        type: 'line', name: 'Limite minimale', xAxisIndex: 2, yAxisIndex: 2,
        symbol: 'none', silent: true, z: 4,
        lineStyle: { color: '#0000FF', width: 2.5, type: [7, 4] },
        itemStyle: { color: NOFILL },
        data: minLimit,
      },
      {
        type: 'line', name: 'Val. journ.réelles 2012', xAxisIndex: 2, yAxisIndex: 2,
        symbol: 'none', silent: true, z: 5,
        lineStyle: { color: '#FF00FF', width: 2.6 },
        itemStyle: { color: NOFILL },
        data: real2012.map((v, i) => [real2012Start + i, v]),
      },
    ],
  };
}

export default function App() {
  const ref = useRef<HTMLDivElement>(null);
  useEffect(() => {
    document.body.style.margin = '0';
    const chart = echarts.init(ref.current!, undefined, { renderer: 'svg' });
    chart.setOption(buildOption());
    return () => chart.dispose();
  }, []);
  return <div ref={ref} style={{ width: 1244, height: 643, background: '#fff' }} />;
}
